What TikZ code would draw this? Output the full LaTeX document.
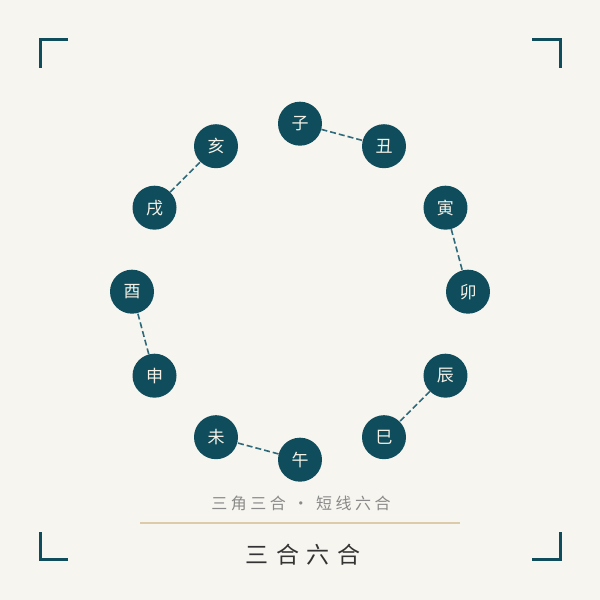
\documentclass[tikz,border=0pt]{standalone}
\usepackage{fontspec}
\usetikzlibrary{calc}
\newfontfamily\cjk{Noto Sans CJK SC}
\newfontfamily\cjkcap[LetterSpace=22]{Noto Sans CJK SC}
\newfontfamily\cjktitle[LetterSpace=34]{Noto Sans CJK SC}
\definecolor{bgc}{HTML}{F7F5EF}
\definecolor{teal}{HTML}{0F4D5C}
\definecolor{dashc}{HTML}{2F6A7B}
\definecolor{cream}{HTML}{F5F1E6}
\definecolor{capc}{HTML}{8A8A8A}
\definecolor{titc}{HTML}{333333}
\definecolor{rulec}{HTML}{DCCBAA}
\tikzset{
  branch/.style={circle, fill=teal, draw=none, minimum size=44pt, inner sep=0pt,
    text=cream, font=\cjk\fontsize{17}{17}\selectfont},
  pairline/.style={draw=dashc, line width=1.6pt, dash pattern=on 6pt off 3pt},
  bracket/.style={draw=teal, line width=3pt, line cap=butt, line join=miter}
}
\begin{document}
\begin{tikzpicture}[x=1pt,y=1pt]
\fill[bgc] (0,0) rectangle (600,600);
\useasboundingbox (0,0) rectangle (600,600);
% corner brackets
\coordinate (tl) at (40,560);
\coordinate (tr) at (560,560);
\coordinate (bl) at (40,40);
\coordinate (br) at (560,40);
\draw[bracket] ([xshift=28pt]tl) -- (tl) -- ([yshift=-28pt]tl);
\draw[bracket] ([xshift=-28pt]tr) -- (tr) -- ([yshift=-28pt]tr);
\draw[bracket] ([xshift=28pt]bl) -- (bl) -- ([yshift=28pt]bl);
\draw[bracket] ([xshift=-28pt]br) -- (br) -- ([yshift=28pt]br);
% branches
\coordinate (c) at (300,308.3);
\foreach \nm/\ch/\ang in {zi/子/90, chou/丑/60, yin/寅/30, mao/卯/0, chen/辰/-30, si/巳/-60,
  wu/午/-90, wei/未/-120, shen/申/-150, you/酉/180, xu/戌/150, hai/亥/120}
  \node[branch] (\nm) at ($(c)+(\ang:168pt)$) {\ch};
% six harmonies
\draw[pairline] (zi) -- (chou);
\draw[pairline] (yin) -- (mao);
\draw[pairline] (chen) -- (si);
\draw[pairline] (wu) -- (wei);
\draw[pairline] (shen) -- (you);
\draw[pairline] (xu) -- (hai);
% caption, rule, title
\node[text=capc, font=\cjkcap\fontsize{16}{16}\selectfont, inner sep=0pt] (cap) at (301,97) {三角三合 · 短线六合};
\coordinate (rl) at (140,76.7);
\coordinate (rr) at (460,76.7);
\draw[draw=rulec, line width=1.6pt] (rl) -- (rr);
\node[text=titc, font=\cjktitle\fontsize{23}{23}\selectfont, inner sep=0pt] (title) at (303,45) {三合六合};
\end{tikzpicture}
\end{document}
